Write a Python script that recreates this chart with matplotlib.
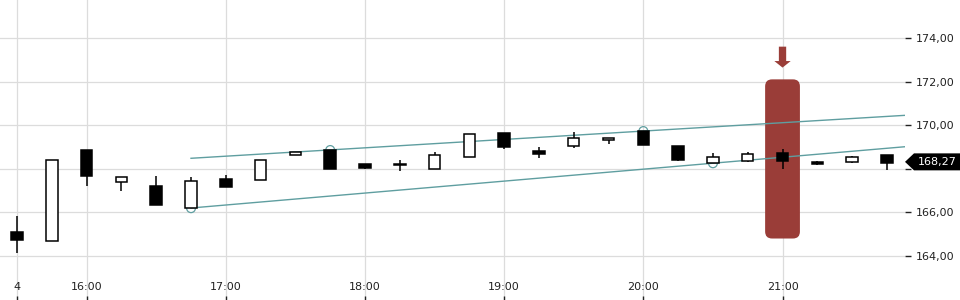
import matplotlib
matplotlib.use("Agg")
import matplotlib.pyplot as plt
import numpy as np
from matplotlib.patches import FancyBboxPatch, Polygon
from matplotlib.transforms import IdentityTransform

# ---- data (15-minute candles, 15:30 .. 21:45) ----
opens  = [165.10, 164.67, 168.86, 167.38, 167.21, 166.19, 167.53, 167.47, 168.62, 168.86,
          168.20, 168.20, 167.98, 168.53, 169.64, 168.82, 169.03, 169.31, 169.73, 169.03,
          168.25, 168.34, 168.72, 168.31, 168.30, 168.62]
highs  = [165.83, 168.39, 168.86, 167.61, 167.67, 167.62, 167.72, 168.39, 168.76, 168.86,
          168.20, 168.39, 168.77, 169.58, 169.64, 169.00, 169.69, 169.40, 169.73, 169.03,
          168.72, 168.77, 168.92, 168.37, 168.59, 168.62]
lows   = [164.14, 164.67, 167.23, 167.00, 166.35, 166.19, 167.18, 167.47, 168.62, 168.00,
          168.00, 167.88, 167.98, 168.53, 168.92, 168.51, 168.97, 169.12, 169.10, 168.36,
          168.25, 168.30, 168.00, 168.17, 168.25, 167.94]
closes = [164.73, 168.39, 167.68, 167.61, 166.35, 167.43, 167.18, 168.39, 168.76, 168.00,
          168.05, 168.15, 168.62, 169.58, 169.01, 168.69, 169.40, 169.40, 169.10, 168.42,
          168.54, 168.68, 168.37, 168.23, 168.54, 168.27]

xtick_pos    = [0, 2, 6, 10, 14, 18, 22]
xtick_labels = ["4", "16:00", "17:00", "18:00", "19:00", "20:00", "21:00"]
ytick_vals   = [164, 166, 168, 170, 172, 174]

upper_x, upper_y = [5, 25.52], [168.48, 170.45]
lower_x, lower_y = [5, 25.52], [166.20, 169.01]
touch_idx   = [5, 9, 18, 20]
touch_price = [166.19, 168.86, 169.73, 168.25]

hl_idx = 22
hl_top, hl_bottom = 172.10, 164.80
arrow_tail, arrow_head_start, arrow_tip = 173.60, 172.94, 172.64

# ---- figure ----
W, H, DPI = 960, 300, 100
fig = plt.figure(figsize=(W / DPI, H / DPI), dpi=DPI)
ax = fig.add_axes([0, 0, 905 / W, 1])
ax.set_xlim(-0.49, 25.52)
ax.set_ylim(161.98, 175.74)

for s in ax.spines.values():
    s.set_visible(False)

last = closes[-1]
grid_c = "#dcdcdc"
ax.set_yticks(ytick_vals)
# the tick label hidden under the last-price marker is left blank
ax.set_yticklabels(["" if abs(v - last) < 0.6 else f"{v:.2f}".replace(".", ",")
                    for v in ytick_vals])
ax.yaxis.tick_right()
ax.tick_params(axis="y", direction="out", length=4, width=1, pad=4,
               labelsize=8, colors="#222222")
ax.set_xticks(xtick_pos)
ax.set_xticklabels(xtick_labels)
ax.tick_params(axis="x", direction="in", length=3, width=1, pad=-13,
               labelsize=8, colors="#222222")
ax.grid(True, color=grid_c, linewidth=0.9, zorder=0)
ax.set_axisbelow(True)

hl_color = "#9a3d38"
# highlight
rr = 0.2
box = FancyBboxPatch((hl_idx - 0.5, hl_bottom), 1.0, hl_top - hl_bottom,
                     boxstyle=f"round,pad=0,rounding_size={rr}",
                     mutation_aspect=1.6, facecolor=hl_color, edgecolor="none",
                     zorder=1)
ax.add_patch(box)
sw, hw = 0.105, 0.235
arrow = Polygon([(hl_idx - sw, arrow_tail), (hl_idx + sw, arrow_tail),
                 (hl_idx + sw, arrow_head_start), (hl_idx + hw, arrow_head_start),
                 (hl_idx, arrow_tip), (hl_idx - hw, arrow_head_start),
                 (hl_idx - sw, arrow_head_start)],
                closed=True, facecolor=hl_color, edgecolor="none", zorder=1)
ax.add_patch(arrow)

# trend lines
teal = "#5f9ea0"
ax.plot(upper_x, upper_y, color=teal, lw=1.0, zorder=2)
ax.plot(lower_x, lower_y, color=teal, lw=1.0, zorder=2)
ax.scatter(touch_idx, touch_price, s=40, facecolors="none", edgecolors=teal,
           linewidths=0.9, zorder=2.5)

# candles
x = np.arange(len(opens))
o = np.array(opens); c = np.array(closes)
ax.vlines(x, lows, highs, color="black", lw=1.1, zorder=3)
bottoms = np.minimum(o, c)
heights = np.maximum(np.abs(c - o), 0.03)
fills = ["white" if cc >= oo else "black" for oo, cc in zip(o, c)]
ax.bar(x, heights, bottom=bottoms, width=0.33, color=fills, edgecolor="black",
       linewidth=1.1, zorder=4)

# last price label
fig.canvas.draw()
xr, yp = ax.transData.transform((ax.get_xlim()[1], last))
yp += 1
hh = 8.5
poly = Polygon([(xr, yp), (xr + 9, yp + hh), (W, yp + hh), (W, yp - hh),
                (xr + 9, yp - hh)], closed=True, facecolor="black",
               edgecolor="none", transform=IdentityTransform(), clip_on=False)
fig.add_artist(poly)
fig.text((xr + 9 + W) / 2 / W, yp / H, f"{last:.2f}".replace(".", ","),
         color="white", fontsize=8, ha="center", va="center")

fig.savefig("out.png", dpi=DPI)
